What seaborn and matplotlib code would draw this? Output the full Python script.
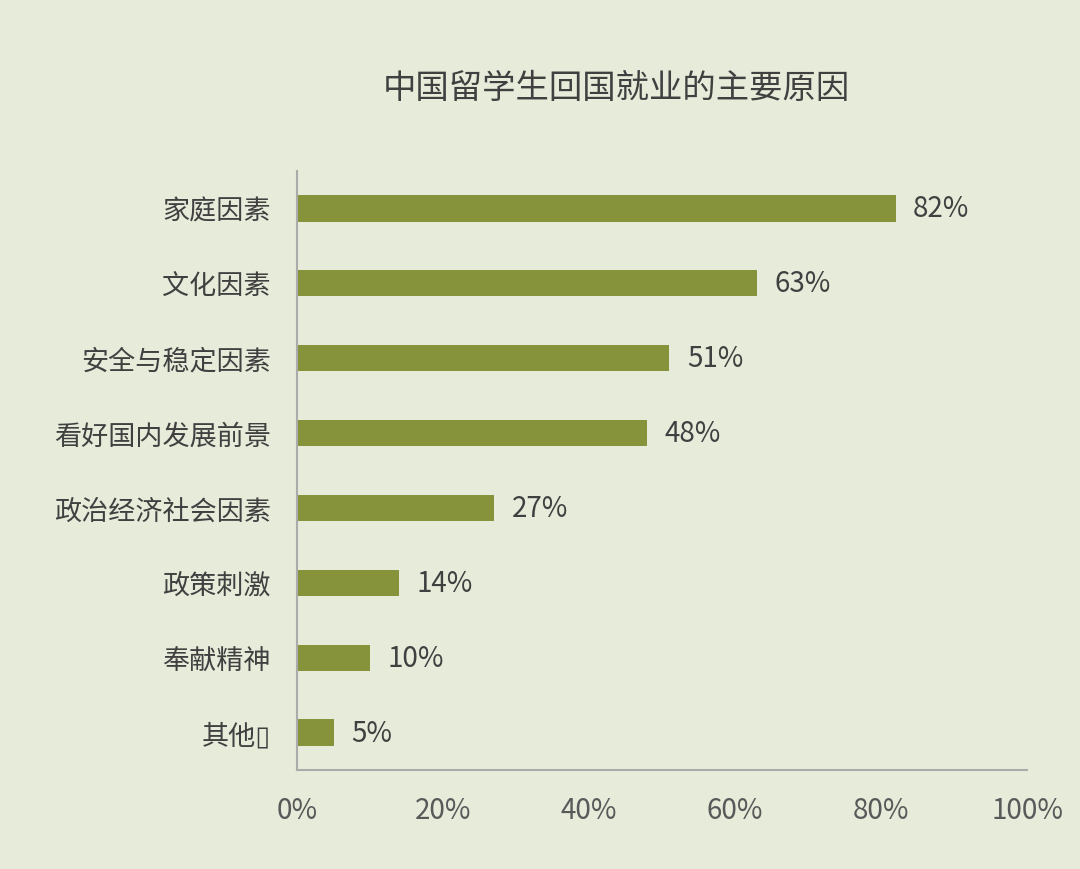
import pandas as pd
import matplotlib.pyplot as plt
import seaborn as sns

# Data
reasons = ['家庭因素', '文化因素', '安全与稳定因素', '看好国内发展前景',
           '政治经济社会因素', '政策刺激', '奉献精神', '其他▯']
shares = [82, 63, 51, 48, 27, 14, 10, 5]
x_ticks = [0, 20, 40, 60, 80, 100]

bg = '#E6EBDA'
bar_color = '#86933A'
text_color = '#404040'

sns.set_theme(style='white')
plt.rcParams['font.family'] = ['Noto Sans CJK SC', 'DejaVu Sans']

df = pd.DataFrame({'reason': reasons, 'share': shares})

fig = plt.figure(figsize=(10.8, 8.7), dpi=100, facecolor=bg)
ax = fig.add_axes([0.275, 0.1138, 0.676, 0.6885])
ax.set_facecolor(bg)

sns.barplot(data=df, x='share', y='reason', color=bar_color, width=0.35,
            saturation=1, linewidth=0, ax=ax)

# percentage labels at the end of each bar
for i, v in enumerate(shares):
    ax.text(v + 2.4, i, f'{v}%', va='center', ha='left', fontsize=20,
            color=text_color)

ax.set_xlim(0, 100)
ax.set_ylim(7.5, -0.5)
ax.set_xticks(x_ticks)
ax.set_xticklabels([f'{t}%' for t in x_ticks], fontsize=20, color='#595959')
ax.tick_params(axis='y', labelsize=19.5, labelcolor='#404040', length=0, pad=19)
ax.tick_params(axis='x', length=0, pad=18)
ax.set_xlabel('')
ax.set_ylabel('')

for side in ['top', 'right']:
    ax.spines[side].set_visible(False)
for side in ['left', 'bottom']:
    ax.spines[side].set_color('#ABABAB')
    ax.spines[side].set_linewidth(1.5)

fig.text(0.571, 0.898, '中国留学生回国就业的主要原因', ha='center', va='center',
         fontsize=24, color=text_color)

fig.savefig('out.png', dpi=100, facecolor=bg)
